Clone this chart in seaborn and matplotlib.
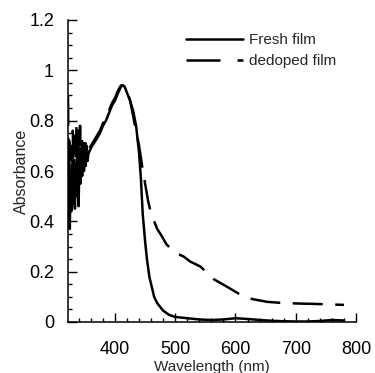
import matplotlib
matplotlib.use("Agg")
import matplotlib.pyplot as plt
import seaborn as sns
from matplotlib.ticker import MultipleLocator

# ---- data ----
fresh_wl = [322, 323, 324, 325, 326, 327.5, 329, 330.5, 332, 333.5, 335, 336.5, 338, 339.5,
            341, 342.5, 344, 345.5, 347, 348.5, 350, 351.5, 353, 354.5, 356, 358, 360, 362,
            365, 370, 375, 380, 385, 390, 395, 400, 405, 410, 413, 416, 420, 425, 430, 435,
            440, 443, 446, 450, 453, 457, 461, 465, 470, 475, 480, 490, 500, 520, 540, 560,
            580, 600, 620, 640, 660, 680, 700, 720, 740, 760, 780]
fresh_abs = [0.62, 0.42, 0.60, 0.37, 0.56, 0.44, 0.62, 0.47, 0.60, 0.45, 0.63, 0.50, 0.60,
             0.46, 0.64, 0.55, 0.66, 0.58, 0.70, 0.60, 0.68, 0.62, 0.70, 0.64, 0.67, 0.68,
             0.69, 0.70, 0.71, 0.73, 0.75, 0.78, 0.80, 0.83, 0.86, 0.88, 0.91, 0.935, 0.94,
             0.935, 0.91, 0.88, 0.84, 0.78, 0.67, 0.57, 0.43, 0.32, 0.25, 0.18, 0.14, 0.10,
             0.075, 0.06, 0.045, 0.028, 0.02, 0.015, 0.010, 0.008, 0.010, 0.015, 0.012, 0.008,
             0.005, 0.003, 0.002, 0.002, 0.004, 0.008, 0.006]

dedoped_wl = [322, 323, 324, 325.5, 327, 328.5, 330, 331.5, 333, 334.5, 336, 337.5, 339, 340.5,
              342, 343.5, 345, 346.5, 348, 349.5, 351, 353, 355, 357, 360, 365, 370, 375, 380,
              385, 390, 395, 400, 405, 410, 413, 416, 420, 425, 430, 435, 440, 445, 450, 455,
              460, 465, 470, 478, 485, 497, 505, 514, 525, 542, 553, 564, 575, 586, 600, 614,
              630, 653, 670, 686, 710, 730, 755, 780]
dedoped_abs = [0.90, 0.60, 0.72, 0.47, 0.70, 0.50, 0.76, 0.48, 0.74, 0.55, 0.78, 0.56, 0.76,
               0.60, 0.78, 0.62, 0.74, 0.64, 0.72, 0.66, 0.71, 0.68, 0.70, 0.69, 0.70, 0.72,
               0.74, 0.76, 0.79, 0.81, 0.84, 0.87, 0.89, 0.92, 0.94, 0.94, 0.935, 0.92, 0.88,
               0.82, 0.76, 0.70, 0.62, 0.55, 0.48, 0.43, 0.40, 0.37, 0.34, 0.31, 0.28, 0.27,
               0.26, 0.24, 0.22, 0.195, 0.17, 0.155, 0.14, 0.12, 0.10, 0.09, 0.08, 0.077,
               0.075, 0.073, 0.072, 0.070, 0.068]

series_labels = ["Fresh film", "dedoped film"]
x_ticks = [400, 500, 600, 700, 800]
y_ticks = [0, 0.2, 0.4, 0.6, 0.8, 1.0, 1.2]
y_ticklabels = ["0", "0.2", "0.4", "0.6", "0.8", "1", "1.2"]

# ---- style ----
sns.set_style("ticks")
plt.rcParams["font.family"] = ["Liberation Sans", "DejaVu Sans"]

W, H = 375, 373
fig = plt.figure(figsize=(W / 100, H / 100), dpi=100)
ax = fig.add_axes([68 / W, 1 - 322 / H, (356 - 68) / W, (322 - 20) / H])

lw = 1.8
sns.lineplot(x=fresh_wl, y=fresh_abs, ax=ax, color="black", linewidth=lw,
             sort=False, estimator=None, label=series_labels[0])
sns.lineplot(x=dedoped_wl, y=dedoped_abs, ax=ax, color="black", linewidth=lw,
             sort=False, estimator=None, label=series_labels[1])
ax.lines[1].set_dashes((12, 5))

ax.set_xlim(322, 800)
ax.set_ylim(0, 1.2)
ax.set_xticks(x_ticks)
ax.set_yticks(y_ticks)
ax.set_yticklabels(y_ticklabels)
ax.xaxis.set_minor_locator(MultipleLocator(20))
ax.yaxis.set_minor_locator(MultipleLocator(0.05))

ax.tick_params(axis="both", which="major", direction="in", length=6.5, width=1.0,
               labelsize=13, color="black", labelcolor="black")
ax.tick_params(axis="both", which="minor", direction="in", length=3, width=1.0, color="black")
ax.tick_params(axis="x", which="major", pad=14)
ax.tick_params(axis="y", which="major", pad=10)

for side in ["top", "right"]:
    ax.spines[side].set_visible(False)
for side in ["left", "bottom"]:
    ax.spines[side].set_linewidth(1.1)
    ax.spines[side].set_color("black")

ax.set_xlabel("Wavelength (nm)", fontsize=11, labelpad=1)
ax.set_ylabel("Absorbance", fontsize=11.5, labelpad=0)

leg = ax.legend(loc="upper left", bbox_to_anchor=(186 / W, 1 - 33 / H),
                bbox_transform=fig.transFigure, frameon=False, fontsize=11,
                handlelength=3.7, handletextpad=0.4, labelspacing=0.45, borderpad=0,
                borderaxespad=0)
handles = leg.legend_handles
handles[1].set_dashes((13.6, 6.8))

fig.savefig("out.png", dpi=100)
